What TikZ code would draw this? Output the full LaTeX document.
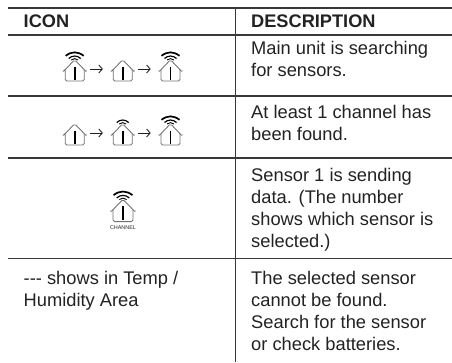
\documentclass[tikz,border=0pt]{standalone}
\usepackage{fontspec}
\setmainfont{Liberation Sans}
\usetikzlibrary{arrows.meta}
\definecolor{ink}{HTML}{222222}
\newcommand{\fl}{\rule{0pt}{14pt}}
\tikzset{
  rule/.style={line width=1.1pt,draw=ink!90},
  txt/.style={anchor=north west,inner sep=0pt,align=left,text=ink,font=\fontsize{18.3}{22}\selectfont},
  head/.style={anchor=base west,inner sep=0pt,text=ink,font=\bfseries\fontsize{18.2}{22}\selectfont},
  housebox/.style={minimum width=24pt,minimum height=24pt,inner sep=0pt},
  step arrow/.style={draw=ink,line width=.9pt,shorten <=3.3pt,shorten >=7.6pt,-{Straight Barb[length=3.5pt,width=8pt]}},
  house/.pic={
    \draw[draw=gray!90!black,line width=.9pt,line join=round] (-12,1.8) -- (-11,2.2) -- (-1.2,-8) -- (1.2,-8) -- (11,2.2) -- (12,1.8);
    \draw[draw=gray!90!black,line width=.9pt,line join=round,rounded corners=1.5pt] (-9.5,0.5) -- (-9.5,12) -- (9.5,12) -- (9.5,0.5);
    \draw[draw=black,line width=1.6pt] (0,-2.5) -- (0,10.5);
  },
  wave1/.pic={\draw[draw=black,line width=.9pt] (-3.5,-9) .. controls (-1.5,-10.8) and (1.5,-10.8) .. (3.5,-9);},
  wave2/.pic={\draw[draw=black,line width=1.2pt] (-6,-10.5) .. controls (-2.5,-13.8) and (2.5,-13.8) .. (6,-10.5);},
  wave3/.pic={\draw[draw=black,line width=1.7pt] (-9,-13.2) .. controls (-3,-17.8) and (3,-17.8) .. (9,-13.2);},
}
\begin{document}
\begin{tikzpicture}[x=1pt,y=-1pt]
\useasboundingbox (0,0) rectangle (452,362);
% grid
\coordinate (tl) at (8,8); \coordinate (tr) at (452,8);
\coordinate (al) at (8,35); \coordinate (ar) at (452,35);
\coordinate (bl) at (8,96); \coordinate (br) at (452,96);
\coordinate (cl) at (8,158); \coordinate (cr) at (452,158);
\coordinate (dl) at (8,258.5); \coordinate (dr) at (452,258.5);
\coordinate (vt) at (235.5,8); \coordinate (vb) at (235.5,362);
\draw[rule] (tl) -- (tr);
\draw[rule] (al) -- (ar);
\draw[rule] (bl) -- (br);
\draw[rule] (cl) -- (cr);
\draw[rule] (dl) -- (dr);
\draw[rule] (vt) -- (vb);
% headers
\node[head] (hicon) at (23.5,27) {ICON};
\node[head] (hdesc) at (251,27) {DESCRIPTION};
% row 1
\node[housebox] (a1) at (74.7,69) {}; \node[housebox] (a2) at (122.7,69) {}; \node[housebox] (a3) at (170.5,69) {};
\pic at (a1) {house}; \pic at (a1) {wave1}; \pic at (a1) {wave2}; \pic at (a1) {wave3};
\pic at (a2) {house};
\pic at (a3) {house}; \pic at (a3) {wave1}; \pic at (a3) {wave2}; \pic at (a3) {wave3};
\draw[step arrow] (a1) -- (a2);
\draw[step arrow] (a2) -- (a3);
% row 2
\node[housebox] (b1) at (74.7,133) {}; \node[housebox] (b2) at (122.7,133) {}; \node[housebox] (b3) at (170.5,133) {};
\pic at (b1) {house};
\pic at (b2) {house}; \pic at (b2) {wave1}; \pic at (b2) {wave2};
\pic at (b3) {house}; \pic at (b3) {wave1}; \pic at (b3) {wave2}; \pic at (b3) {wave3};
\draw[step arrow] (b1) -- (b2);
\draw[step arrow] (b2) -- (b3);
% row 3
\node[housebox] (c1) at (123,209) {};
\pic[scale=1.05] at (c1) {house}; \pic[scale=1.05] at (c1) {wave1}; \pic[scale=1.05] at (c1) {wave2}; \pic[scale=1.05] at (c1) {wave3};
\node[inner sep=0pt,text=ink,font=\fontsize{5.4}{6}\selectfont] (chan) at (123,228) {CHANNEL};
% descriptions
\node[txt] (d1) at (251,40) {\fl Main unit is searching\\for sensors.};
\node[txt] (d2) at (251,104) {\fl At least 1 channel has\\been found.};
\node[txt] (d3) at (251,167) {\fl Sensor 1 is sending\\data. (The number\\shows which sensor is\\selected.)};
\node[txt] (d4a) at (23.5,270) {\fl -{}-{}- shows in Temp /\\Humidity Area};
\node[txt] (d4b) at (251,270) {\fl The selected sensor\\cannot be found.\\Search for the sensor\\or check batteries.};
\end{tikzpicture}
\end{document}
